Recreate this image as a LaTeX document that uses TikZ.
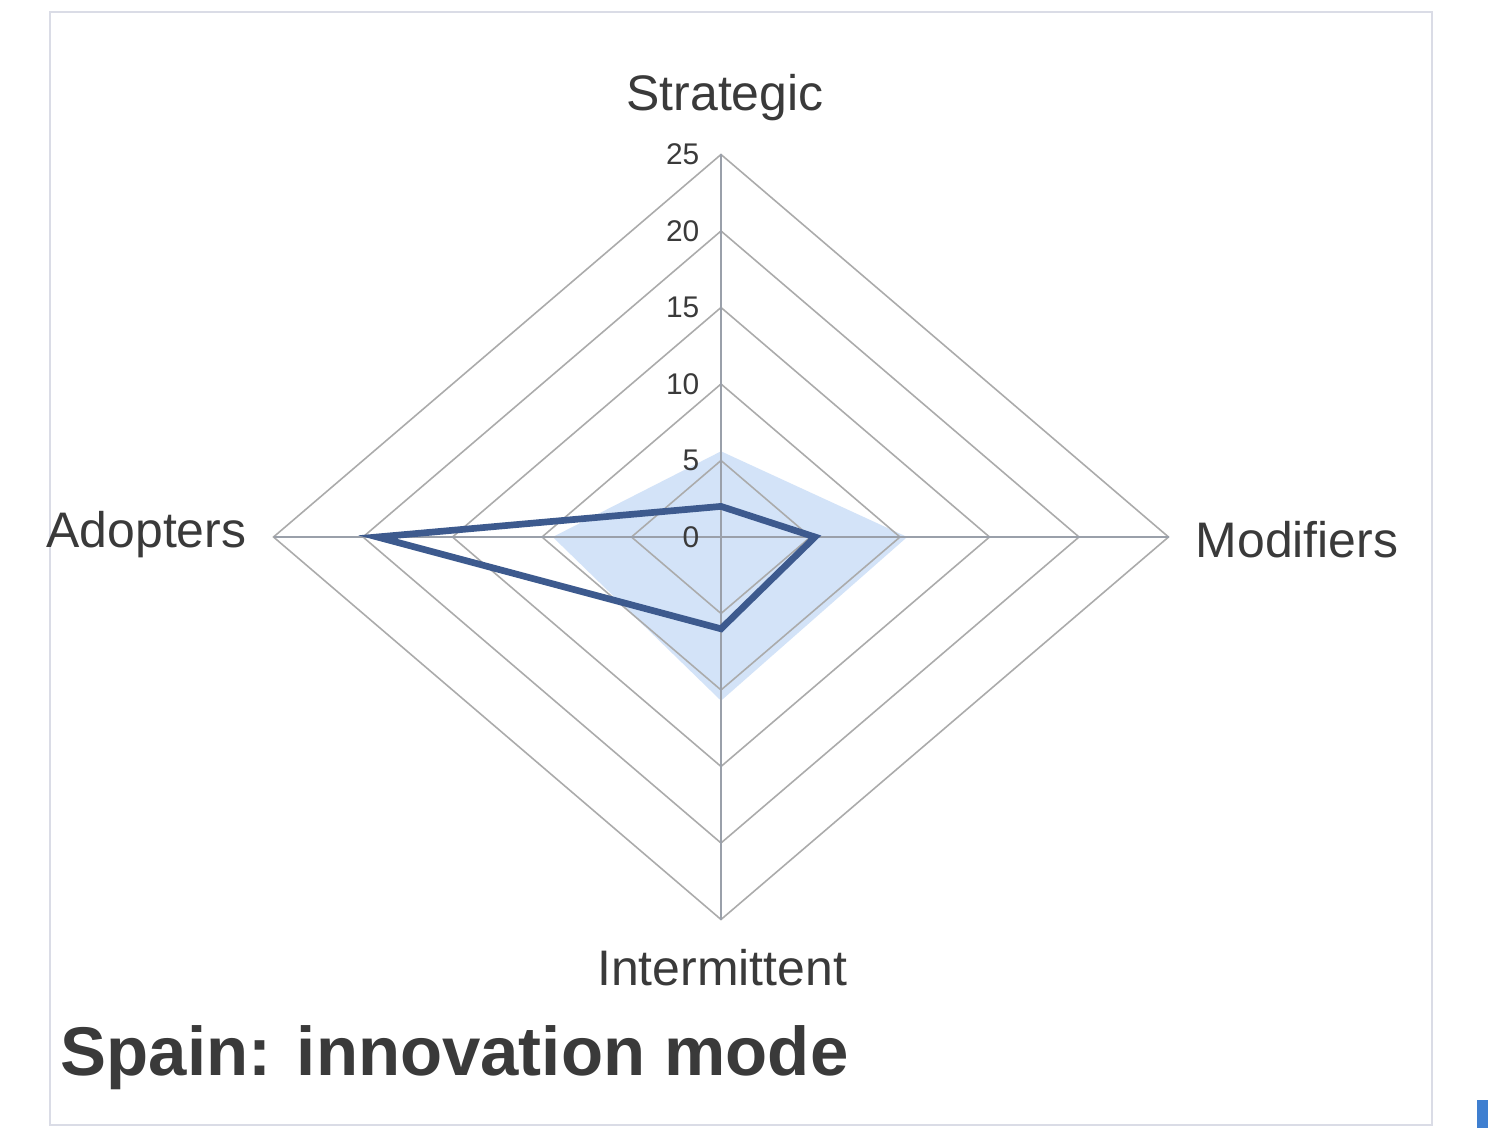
\documentclass[tikz,border=0pt]{standalone}
\usepackage{fontspec}
\setmainfont{Liberation Sans}
\definecolor{gridgray}{HTML}{ABABAB}
\definecolor{axisgray}{HTML}{9AA0AA}
\definecolor{seriesblue}{HTML}{3D5A8E}
\definecolor{fillblue}{HTML}{D3E3F8}
\definecolor{labelgray}{HTML}{3A3A3A}
\definecolor{framecol}{HTML}{DADCE6}
\definecolor{markblue}{HTML}{3F7FD0}
\begin{document}
\begin{tikzpicture}[x=0.01cm,y=-0.01cm,
  ring/.style={draw=gridgray, line width=0.45pt},
  axisline/.style={draw=axisgray, line width=0.5pt},
  series/.style={draw=seriesblue, line width=1.9pt, line join=miter},
  axlabel/.style={font=\fontsize{14.2}{16}\selectfont, text=labelgray, inner sep=0pt},
  ticklabel/.style={font=\fontsize{8.5}{9}\selectfont, text=labelgray, anchor=east, inner sep=0pt},
  titlelabel/.style={font=\bfseries\fontsize{19.6}{22}\selectfont, text=labelgray, inner sep=0pt, anchor=west}]
\useasboundingbox (0,0) rectangle (1488,1128);
\fill[white] (0,0) rectangle (1488,1128);
\draw[framecol, line width=0.8pt] (50,12) rectangle (1432,1125);
\coordinate (O) at (721,537);
% light blue area series
\fill[fillblue] (721,537-5.6*15.3) -- (721+10.4*17.9,537) -- (721,537+10.7*15.3) -- (721-9.4*17.9,537) -- cycle;
% rings
\foreach \r in {5,10,...,25} {
  \draw[ring] (721,537-\r*15.3) -- (721+\r*17.9,537) -- (721,537+\r*15.3) -- (721-\r*17.9,537) -- cycle;
}
% axes
\coordinate (top) at (721,537-25*15.3);
\coordinate (bot) at (721,537+25*15.3);
\coordinate (lft) at (721-25*17.9,537);
\coordinate (rgt) at (721+25*17.9,537);
\draw[axisline] (top) -- (bot);
\draw[axisline] (lft) -- (rgt);
% dark series
\draw[series] (721,537-2*15.3) -- (721+5.25*17.9,537) -- (721,537+6*15.3) -- (721-19.2*17.9,537) -- cycle;
% tick labels
\foreach \v in {0,5,...,25} {
  \node[ticklabel] (t\v) at (700,537-\v*15.3) {\v};
}
% axis labels
\node[axlabel] (strat) at (725,98) {Strategic};
\node[axlabel, anchor=west] (modif) at (1195,540) {Modifiers};
\node[axlabel, anchor=east] (adopt) at (247,535) {Adopters};
\node[axlabel] (inter) at (722,968) {Intermittent};
\node[titlelabel] (title) at (60,1058) {Spain: innovation mode};
\fill[markblue] (1477,1100) rectangle (1488,1128);
\end{tikzpicture}
\end{document}
